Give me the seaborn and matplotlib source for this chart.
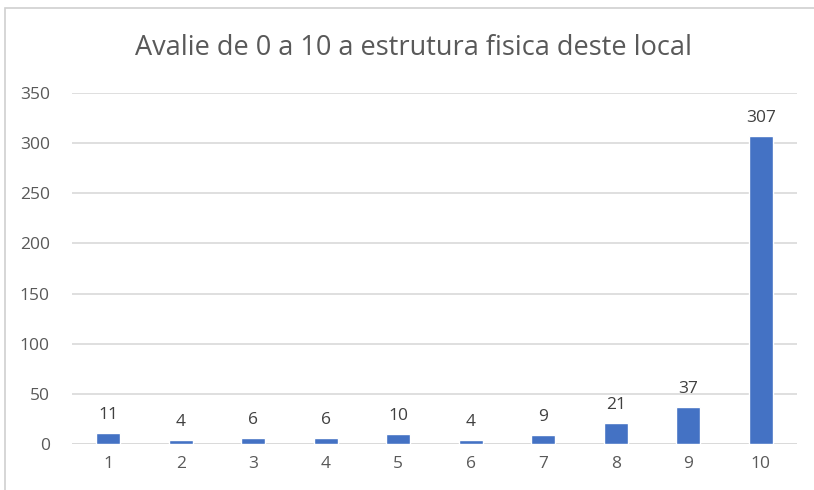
import matplotlib
matplotlib.use("Agg")
import matplotlib.pyplot as plt
import seaborn as sns
import pandas as pd

categories = ["1", "2", "3", "4", "5", "6", "7", "8", "9", "10"]
counts = [11, 4, 6, 6, 10, 4, 9, 21, 37, 307]
y_ticks = [0, 50, 100, 150, 200, 250, 300, 350]
title = "Avalie de 0 a 10 a estrutura fisica deste local"

df = pd.DataFrame({"nota": categories, "total": counts})

sns.set_theme(style="white")
plt.rcParams["font.family"] = ["Open Sans", "DejaVu Sans"]

fig = plt.figure(figsize=(8.14, 4.90), dpi=100)
ax = fig.add_axes([0.0885, 0.094, 0.8905, 0.716])

sns.barplot(data=df, x="nota", y="total", color="#4472C4", saturation=1,
            width=0.33, ax=ax, zorder=3)

ax.set_ylim(0, 350)
ax.set_yticks(y_ticks)
ax.yaxis.grid(True, color="#d9d9d9", linewidth=1.2, zorder=0)
ax.set_axisbelow(True)
sns.despine(ax=ax, left=True, bottom=True, top=True, right=True)
ax.axhline(0, color="#d9d9d9", linewidth=1.2, zorder=2)

ax.set_xlabel("")
ax.set_ylabel("")
ax.tick_params(axis="both", length=0, labelsize=12.5, labelcolor="#595959")
ax.tick_params(axis="x", pad=9)
ax.tick_params(axis="y", pad=16)

for i, v in enumerate(counts):
    ax.annotate(str(v), (i, v), xytext=(0, 7), textcoords="offset points",
                ha="center", va="bottom", fontsize=12.5, color="#404040")

fig.text(0.508, 0.902, title, ha="center", va="center", fontsize=19.5,
         color="#595959")

# light frame around the chart area
fig.patches.append(plt.Rectangle((0.006, -0.02), 1.1, 1.004, transform=fig.transFigure,
                                 fill=False, edgecolor="#d0d0d0", linewidth=1.2))

fig.savefig("out.png", dpi=100, facecolor="white")
